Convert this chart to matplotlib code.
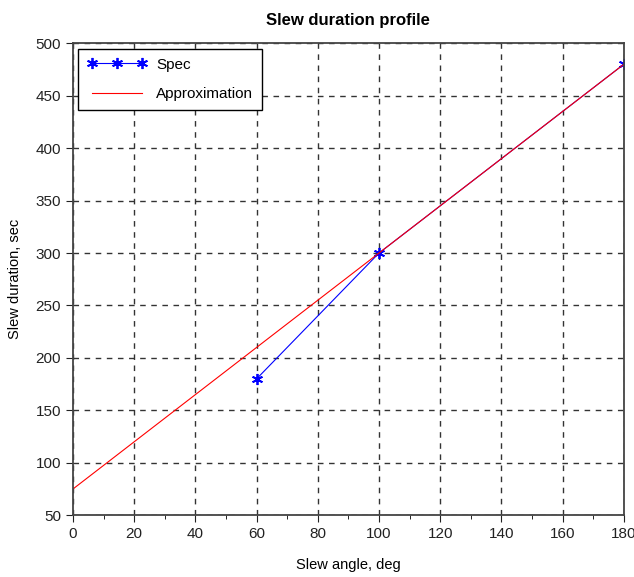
import numpy as np
import matplotlib.pyplot as plt
from matplotlib.ticker import MultipleLocator

plt.rcParams["font.family"] = ["Liberation Sans", "DejaVu Sans"]

# Data
spec_angle = [60, 100, 180]
spec_duration = [180, 300, 480]
approx_angle = [0, 180]
approx_duration = [75, 480]

fig = plt.figure(figsize=(6.34, 5.77), dpi=100)
ax = fig.add_axes([0.115, 0.107, 0.869, 0.818])

ax.plot(spec_angle, spec_duration, color="blue", marker=(6, 2, 0), markersize=8,
        markeredgewidth=1.3, linewidth=0.8, label="Spec")
ax.plot(approx_angle, approx_duration, color="red", linewidth=0.8,
        label="Approximation")

ax.set_xlim(0, 180)
ax.set_ylim(50, 500)
ax.xaxis.set_major_locator(MultipleLocator(20))
ax.xaxis.set_minor_locator(MultipleLocator(10))
ax.yaxis.set_major_locator(MultipleLocator(50))
ax.grid(True, which="major", color="#333333", linestyle=(0, (4, 4)), linewidth=1.0)

ax.tick_params(axis="both", which="major", direction="out", length=5,
               labelsize=11, colors="#222222")
ax.tick_params(axis="x", which="minor", direction="out", length=3)
for s in ax.spines.values():
    s.set_color("#444444")
    s.set_linewidth(1.3)

ax.set_xlabel("Slew angle, deg", fontsize=10.5, labelpad=12)
ax.set_ylabel("Slew duration, sec", fontsize=10.5, labelpad=10)
ax.set_title("Slew duration profile", fontsize=12, fontweight="bold", pad=13)

leg = ax.legend(loc="upper left", fancybox=False, framealpha=1,
                edgecolor="black", fontsize=11, borderaxespad=0.35,
                handlelength=3.9, handletextpad=0.6, numpoints=3,
                labelspacing=1.0, borderpad=0.6)
leg.get_frame().set_linewidth(1.0)

plt.savefig("out.png")
